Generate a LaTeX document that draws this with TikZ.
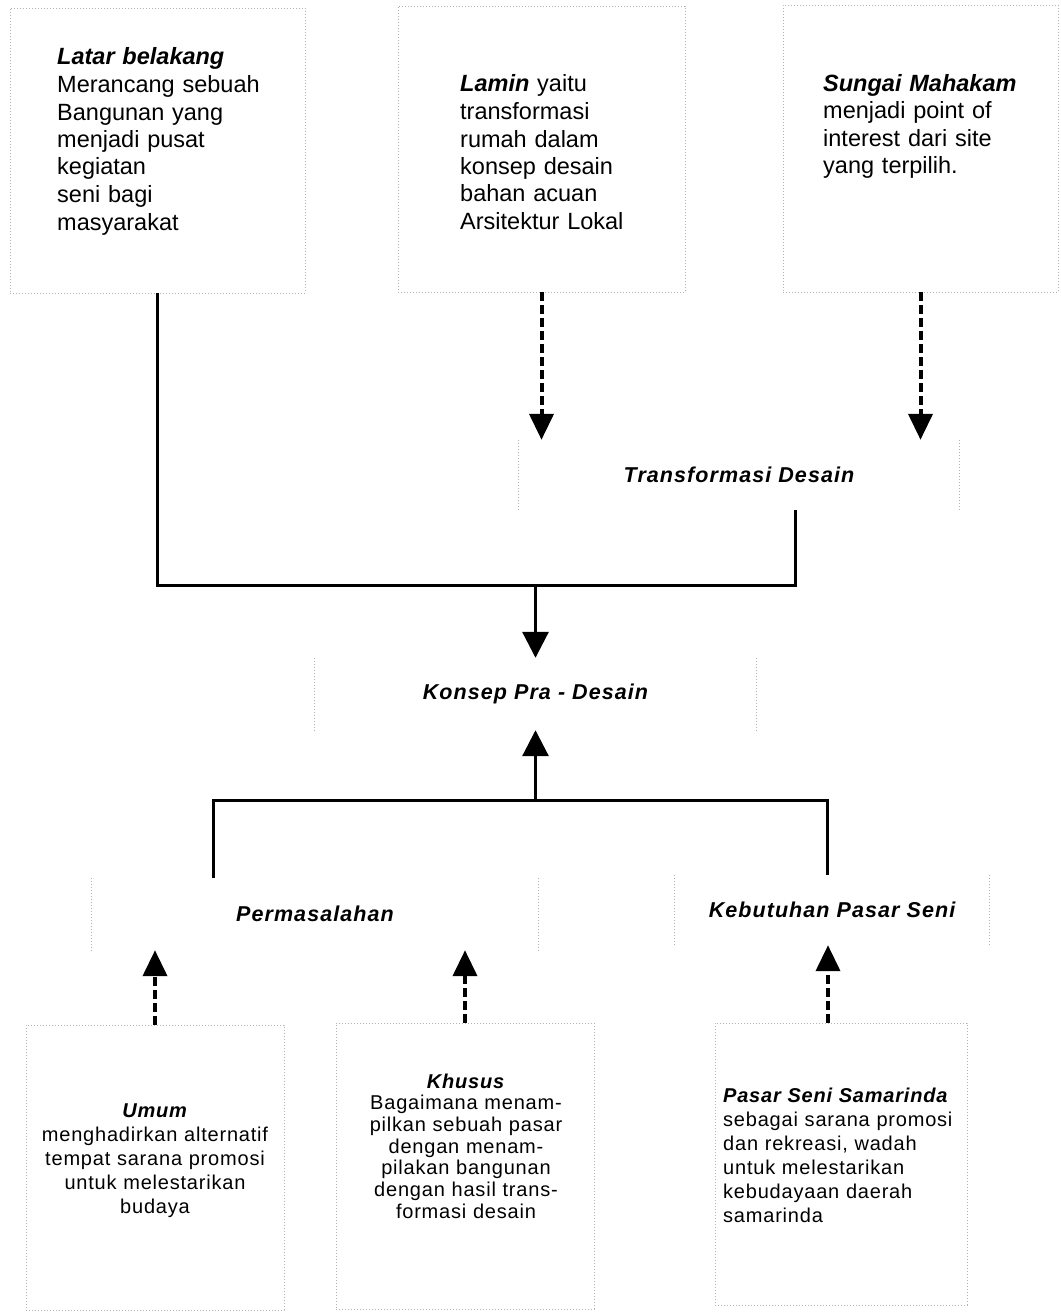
\documentclass[tikz,border=0pt]{standalone}
\usepackage{fontspec}
\setmainfont{Liberation Sans}
\newfontfamily\spaced[LetterSpace=4]{Liberation Sans}
\newfontfamily\wide[LetterSpace=5]{Liberation Sans}
\usetikzlibrary{arrows.meta,positioning,calc}

\begin{document}
\begin{tikzpicture}[x=1pt,y=-1pt,
    panel/.style={rectangle, draw=black!30, dash pattern=on 1pt off 2pt, line width=0.8pt},
    rim/.style={draw=black!30, dash pattern=on 1pt off 2pt, line width=0.8pt},
    stage/.style={rectangle, minimum height=70pt, font=\wide\fontsize{21.5}{25}\selectfont\bfseries\itshape},
    toptext/.style={anchor=base west, inner sep=0pt, text width=240pt, align=left, font=\fontsize{23.5}{27.5}\selectfont},
    bottext/.style={inner sep=0pt, text width=250pt, font=\spaced\fontsize{20}{24}\selectfont},
    wire/.style={line width=3pt},
    arrow/.style={line width=3pt, -{Triangle[width=26pt,length=26pt]}},
    dasharrow/.style={line width=4pt, dash pattern=on 9pt off 4pt, -{Triangle[width=24pt,length=26pt]}}
]
    \useasboundingbox (0,0) rectangle (1060,1314);

    \node[panel, minimum width=295pt, minimum height=285pt] (latar) at (157.5,150.5) {};
    \node[panel, minimum width=287pt, minimum height=286pt] (lamin) at (541.5,149) {};
    \node[panel, minimum width=275pt, minimum height=287pt] (sungai) at (920.5,148.5) {};
    \node[toptext] (latartext) at (57,65) {\textbf{\textit{Latar belakang}}\\Merancang sebuah\\Bangunan yang\\menjadi pusat\\kegiatan\\seni bagi\\masyarakat};
    \node[toptext] (lamintext) at (460,92) {\textbf{\textit{Lamin}} yaitu\\transformasi\\rumah dalam\\konsep desain\\bahan acuan\\Arsitektur Lokal};
    \node[toptext] (sungaitext) at (823,91) {\textbf{\textit{Sungai Mahakam}}\\menjadi point of\\interest dari site\\yang terpilih.};

    \node[stage, minimum width=440pt] (trans) at (739,475) {Transformasi Desain};
    \node[stage, minimum width=441pt, minimum height=72pt] (konsep) at (535.5,694) {Konsep Pra - Desain};
    \node[stage, minimum width=446pt, minimum height=72pt] (masalah) at (315,914) {Permasalahan};
    \node[stage, minimum width=315pt] (butuh) at (832,910) {Kebutuhan Pasar Seni};
    \foreach \n in {trans,konsep,masalah,butuh}
        \draw[rim] (\n.north west) -- (\n.south west) (\n.north east) -- (\n.south east);

    \node[panel, minimum width=258pt, minimum height=285pt] (umum) at (155,1167.5) {};
    \node[panel, minimum width=258pt, minimum height=286pt] (khusus) at (465,1166) {};
    \node[panel, minimum width=252pt, minimum height=282pt] (pasar) at (841,1164) {};
    \node[bottext, anchor=base, align=center] (umumtext) at (155,1117) {\textbf{\textit{Umum}}\\menghadirkan alternatif\\tempat sarana promosi\\untuk melestarikan\\budaya};
    \node[bottext, anchor=base, align=center, font=\spaced\fontsize{20}{21.7}\selectfont] (khusustext) at (466,1088) {\textbf{\textit{Khusus}}\\Bagaimana menam-\\pilkan sebuah pasar\\dengan menam-\\pilakan bangunan\\dengan hasil trans-\\formasi desain};
    \node[bottext, anchor=base west, align=left] (pasartext) at (723,1102) {\textbf{\textit{Pasar Seni Samarinda}}\\sebagai sarana promosi\\dan rekreasi, wadah\\untuk melestarikan\\kebudayaan daerah\\samarinda};

    \coordinate (join) at (535.5,585);
    \coordinate (split) at (535.5,800);

    \draw[dasharrow] (lamin.south) -- (lamin.south |- trans.north);
    \draw[dasharrow] (sungai.south) -- (sungai.south |- trans.north);
    \draw[wire] (latar.south) |- (join) -| ([xshift=56pt]trans.south);
    \draw[arrow] (join) -- (konsep.north);
    \draw[arrow] (split) -- (konsep.south);
    \draw[wire] ([xshift=-102pt]masalah.north) |- (split) -| ([xshift=-5pt]butuh.north);
    \draw[dasharrow] (umum.north) -- (umum.north |- masalah.south);
    \draw[dasharrow] (khusus.north) -- (khusus.north |- masalah.south);
    \draw[dasharrow] ([xshift=-13pt]pasar.north) -- ([xshift=-4pt]butuh.south);
\end{tikzpicture}
\end{document}
